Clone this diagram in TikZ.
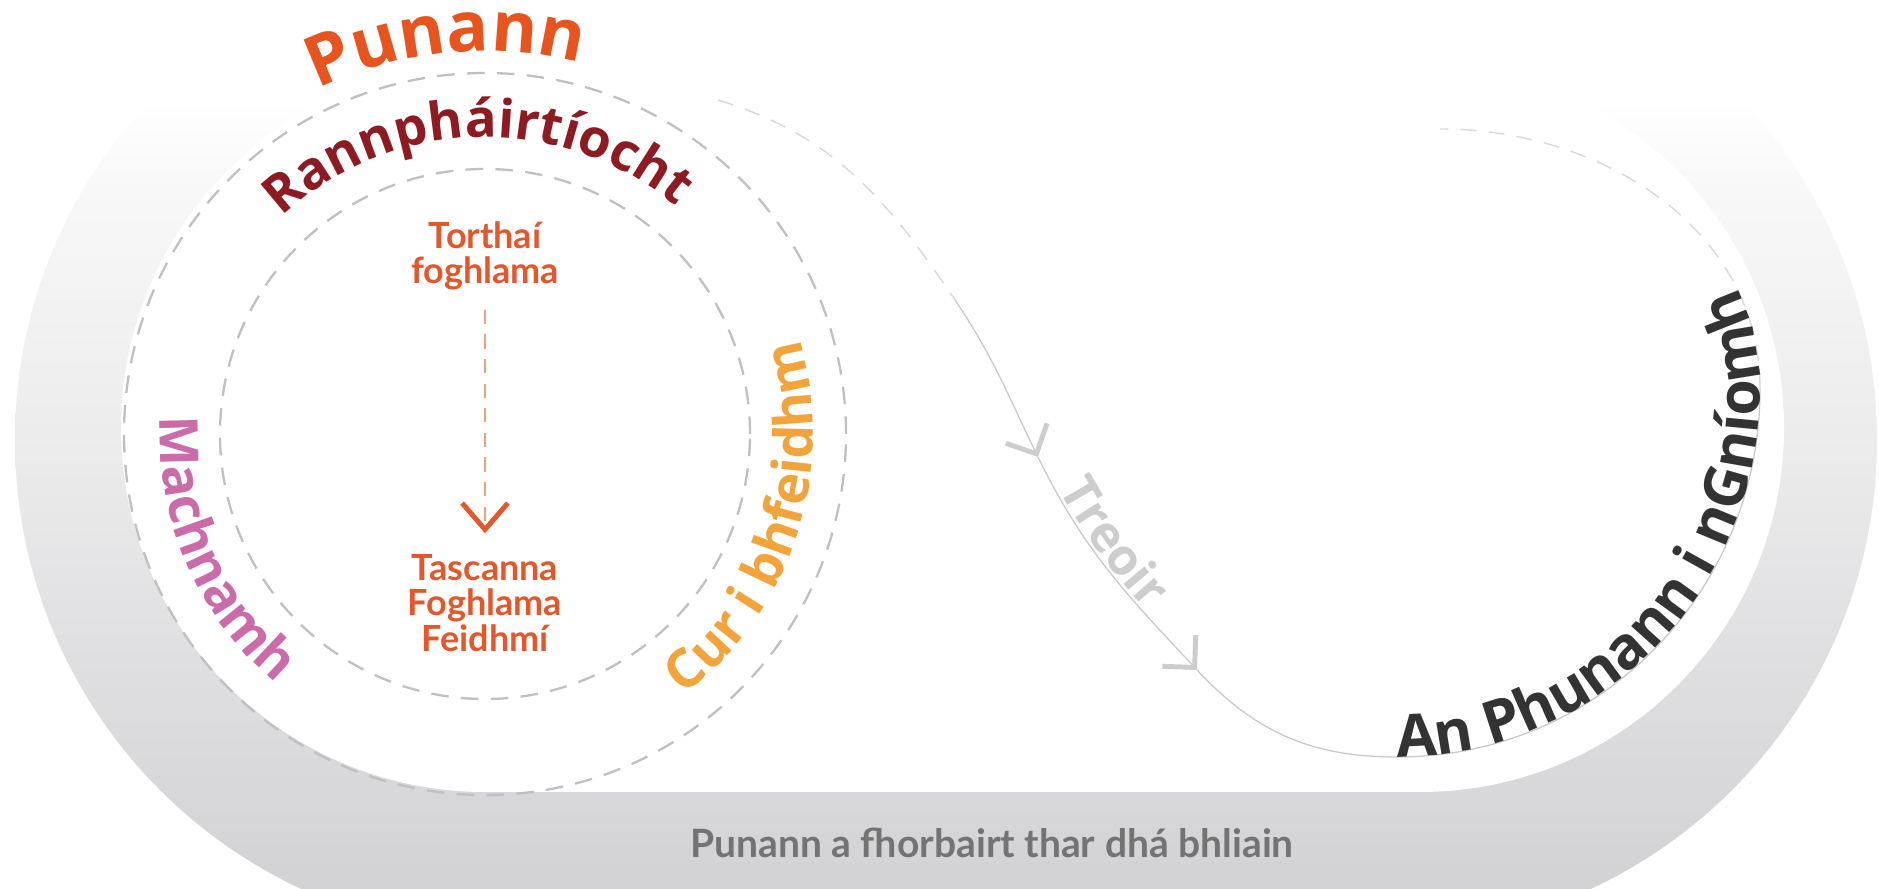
\documentclass[tikz,border=0pt]{standalone}
\usepackage{fontspec}
\setmainfont{Lato}
\newfontfamily\ringfont{Open Sans}
\usetikzlibrary{arrows.meta,decorations.text,calc}

\definecolor{bandgray}{RGB}{210,209,211}
\definecolor{bandmid}{RGB}{236,236,237}
\definecolor{bandlight}{RGB}{248,248,248}
\definecolor{punannorange}{RGB}{232,84,30}
\definecolor{rannred}{RGB}{142,27,34}
\definecolor{innerorange}{RGB}{228,87,42}
\definecolor{arrowsalmon}{RGB}{239,160,125}
\definecolor{machpink}{RGB}{203,107,170}
\definecolor{curorange}{RGB}{242,163,58}
\definecolor{treoirgray}{RGB}{205,205,205}
\definecolor{flowgray}{RGB}{200,200,200}
\definecolor{ringgray}{RGB}{192,192,192}
\definecolor{gniomhdark}{RGB}{51,51,51}
\definecolor{bottomgray}{RGB}{115,115,115}

% band fades to white towards the top (full picture size)
\pgfdeclareverticalshading{bandshade}{375.8mm}{color(0mm)=(bandgray); color(91mm)=(bandmid);
  color(140mm)=(bandlight); color(158mm)=(white); color(177.8mm)=(white)}

\tikzset{
  ringdash/.style={draw=ringgray, line width=1.3pt, dash pattern=on 10pt off 7pt},
  flowdash/.style={draw=flowgray!70, line width=0.8pt, dash pattern=on 9pt off 7pt},
  flowline/.style={draw=flowgray, line width=0.7pt},
  flowtip/.style={-{Straight Barb[length=13pt,width=26pt,line width=2.8pt,color=treoirgray]}},
  innertext/.style={font=\bfseries\fontsize{20.5}{20}\selectfont, text=innerorange, align=center, inner sep=0pt},
  innerarrow/.style={draw=arrowsalmon, line width=1.1pt, dash pattern=on 8pt off 6pt,
    shorten <=11pt, shorten >=12pt,
    -{Straight Barb[length=15pt,width=26pt,line width=2.8pt,color=innerorange]}},
  ringtext/.style={decorate, decoration={text along path, text align=center, text color=#1,
    text format delimiters={[}{]}}},
}

\begin{document}
\begin{tikzpicture}[x=0.2mm, y=0.2mm]
\useasboundingbox (0,0) rectangle (1879,889);
\clip (0,0) rectangle (1879,889);

% grey band and white field
\begin{scope}
\clip (510,-46) -- (1382,-46) arc[start angle=-90, end angle=90, radius=495]
  -- (510,944) arc[start angle=90, end angle=270, radius=495] -- cycle;
\node[inner sep=0pt, anchor=south west] (bandfill) at (0,0) {\pgfuseshading{bandshade}};
\end{scope}
\fill[white]
  (485,97) -- (1420,97) arc[start angle=-90, end angle=90, radius=364]
  -- (485,825) arc[start angle=90, end angle=270, radius=364] -- cycle;

% rings
\coordinate (C1) at (485,455);
\draw[ringdash] (C1) circle[radius=361];
\draw[ringdash] (C1) circle[radius=265];

% flow
\coordinate (s0) at (718,789);
\coordinate (s1) at (955,589);
\coordinate (t1) at (1038,432);
\coordinate (t2) at (1197,219);
\coordinate (b0) at (1397,132);
\coordinate (r0) at (1760,500);
\coordinate (e0) at (1440,760);
\draw[flowdash] (s0) to[out=-17, in=124] (s1);
\draw[flowline, flowtip] (s1) to[out=-56, in=116] (t1);
\draw[flowline, flowtip] (t1) to[out=-64, in=133] (t2);
\draw[flowline] (t2) to[out=-47, in=180] (b0) to[out=0, in=-90] (r0);
\draw[flowdash] (r0) to[out=90, in=0] (e0);

% texts on the rings
\path[ringtext=punannorange, decoration={text={[\ringfont\bfseries\fontsize{39.8}{40}\selectfont]Punann}}]
  ($(C1)+(150:383)$) arc[start angle=150, end angle=41.4, radius=383];
\path[ringtext=rannred, decoration={text={[\ringfont\bfseries\fontsize{30}{31}\selectfont]Rannpháirtíocht}}]
  ($(C1)+(160:297)$) arc[start angle=160, end angle=23, radius=297];
\path[ringtext=machpink, decoration={text={[\ringfont\bfseries\fontsize{30.5}{31}\selectfont]Machnamh}}]
  ($(C1)+(160:325)$) arc[start angle=160, end angle=247, radius=325];
\path[ringtext=curorange, decoration={text={[\ringfont\bfseries\fontsize{30.5}{31}\selectfont]Cur i bhfeidhm}}]
  ($(C1)+(-70:328)$) arc[start angle=-70, end angle=34, radius=328];
\path[ringtext=treoirgray, decoration={text align={align=left, left indent=22pt}, raise=2pt,
    text={[\ringfont\bfseries\fontsize{28.5}{29}\selectfont]Treoir}}]
  (t1) to[out=-64, in=133] (t2);
\path[ringtext=gniomhdark, decoration={text align={align=left, left indent=0pt},
    text={[\ringfont\bfseries\fontsize{33.5}{34}\selectfont]An Phunann i nGníomh}}]
  (b0) to[out=0, in=-90] (r0) to[out=90, in=0] (e0);

% centre
\node[innertext] (torthai) at (485,633) {Torthaí\\foghlama};
\node[innertext] (tascanna) at (485,286) {Tascanna\\Foghlama\\Feidhmí};
\draw[innerarrow] (torthai) -- (tascanna);

\node[font=\bfseries\fontsize{22.2}{24}\selectfont, text=bottomgray] (band) at (992,46)
  {Punann a fhorbairt thar dhá bhliain};
\end{tikzpicture}
\end{document}
